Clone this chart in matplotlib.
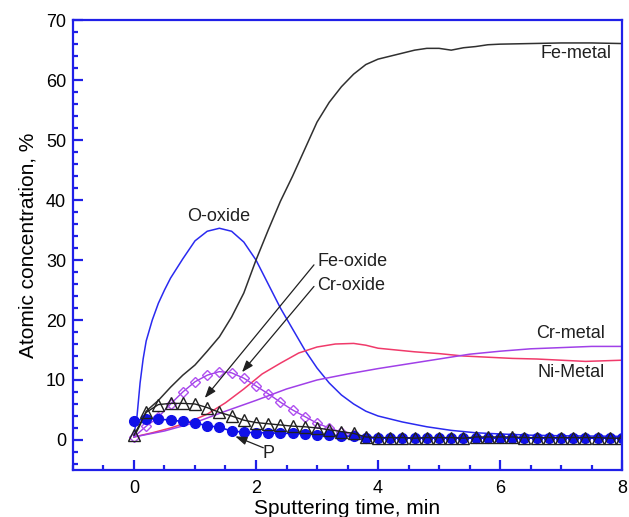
import matplotlib
matplotlib.use("Agg")
import matplotlib.pyplot as plt
from matplotlib.ticker import MultipleLocator

plt.rcParams['font.family'] = ['Liberation Sans', 'DejaVu Sans']

# Fe-metal (black line)
fe_metal_t = [0, 0.1, 0.2, 0.4, 0.6, 0.8, 1.0, 1.2, 1.4, 1.6, 1.8, 2.0, 2.2, 2.4, 2.6, 2.8,
              3.0, 3.2, 3.4, 3.6, 3.8, 4.0, 4.2, 4.4, 4.6, 4.8, 5.0, 5.2, 5.4, 5.6, 5.8,
              6.0, 6.5, 7.0, 7.5, 8.0]
fe_metal = [0.5, 2.5, 4.8, 6.6, 8.8, 10.8, 12.5, 14.8, 17.2, 20.5, 24.5, 30.0, 35.0, 39.8,
            44.0, 48.5, 53.0, 56.3, 58.9, 61.0, 62.6, 63.5, 64.0, 64.5, 65.0, 65.3, 65.3,
            65.0, 65.4, 65.6, 65.9, 66.0, 66.1, 66.2, 66.2, 66.1]

# O-oxide (blue line)
o_oxide_t = [0, 0.05, 0.1, 0.15, 0.2, 0.3, 0.4, 0.5, 0.6, 0.8, 1.0, 1.2, 1.4, 1.6, 1.8,
             2.0, 2.2, 2.4, 2.6, 2.8, 3.0, 3.2, 3.4, 3.6, 3.8, 4.0, 4.4, 4.8, 5.2, 5.6,
             6.0, 6.5, 7.0, 8.0]
o_oxide = [0.8, 4.0, 9.5, 13.5, 16.5, 20.0, 22.8, 25.0, 27.0, 30.2, 33.2, 34.8, 35.3,
           34.8, 33.0, 30.0, 26.0, 22.0, 18.5, 15.0, 12.0, 9.5, 7.5, 6.0, 4.8, 4.0, 3.0,
           2.2, 1.6, 1.2, 1.0, 0.8, 0.7, 0.6]

# red line (Ni-Metal label)
red_t = [0, 0.3, 0.6, 0.9, 1.2, 1.5, 1.8, 2.1, 2.4, 2.7, 3.0, 3.3, 3.6, 3.8, 4.0, 4.3,
         4.6, 5.0, 5.4, 5.8, 6.2, 6.6, 7.0, 7.4, 8.0]
red = [0.5, 1.2, 2.0, 3.0, 4.3, 6.2, 8.5, 11.0, 12.8, 14.5, 15.5, 16.0, 16.1, 15.8,
       15.3, 15.0, 14.7, 14.4, 14.0, 13.8, 13.6, 13.5, 13.3, 13.1, 13.3]

# purple line (Cr-metal label)
purple_t = [0, 0.5, 1.0, 1.5, 2.0, 2.5, 3.0, 3.5, 4.0, 4.5, 5.0, 5.5, 6.0, 6.5, 7.0,
            7.5, 8.0]
purple = [0.5, 1.5, 2.9, 4.8, 6.6, 8.5, 10.0, 11.0, 11.9, 12.7, 13.5, 14.3, 14.8,
          15.2, 15.4, 15.6, 15.6]

# marker series, sampled every 0.2 min
mk_t = [round(0.2 * i, 1) for i in range(41)]
diamonds = [0.5, 2.3, 3.8, 6.0, 8.0, 9.7, 10.8, 11.4, 11.2, 10.3, 9.0, 7.7, 6.3, 5.0,
            3.9, 2.8, 2.0, 1.3, 0.8, 0.5, 0.3, 0.3, 0.3, 0.3, 0.3, 0.3, 0.3, 0.3, 0.3,
            0.3, 0.3, 0.3, 0.3, 0.3, 0.3, 0.3, 0.3, 0.3, 0.3, 0.3, 0.3]
triangles = [0.8, 4.6, 5.9, 6.1, 6.1, 6.0, 5.4, 4.6, 4.0, 3.3, 2.9, 2.7, 2.5, 2.3,
             2.2, 2.0, 1.7, 1.4, 1.1, 0.5, 0.4, 0.4, 0.4, 0.3, 0.4, 0.4, 0.4, 0.3, 0.5,
             0.5, 0.5, 0.5, 0.4, 0.4, 0.4, 0.4, 0.4, 0.4, 0.4, 0.3, 0.3]
p_circles = [3.2, 3.5, 3.5, 3.3, 3.1, 2.8, 2.4, 2.1, 1.5, 1.3, 1.2, 1.2, 1.1, 1.1,
             1.0, 0.9, 0.8, 0.7, 0.6, 0.4, 0.3, 0.3, 0.3, 0.3, 0.3, 0.3, 0.3, 0.3, 0.3,
             0.3, 0.3, 0.3, 0.3, 0.3, 0.3, 0.3, 0.3, 0.3, 0.3, 0.3, 0.3]

fig = plt.figure(figsize=(6.29, 5.17), dpi=100)
ax = fig.add_axes([0.116, 0.091, 0.873, 0.870])

ax.plot(o_oxide_t, o_oxide, color='#2a2af0', lw=1.1)
ax.plot(fe_metal_t, fe_metal, color='#303030', lw=1.1)
ax.plot(red_t, red, color='#f03a6a', lw=1.1)
ax.plot(purple_t, purple, color='#a040e8', lw=1.1)
ax.plot(mk_t, diamonds, color='#a040e8', lw=1.0, marker='D', ms=5.5,
        mfc='none', mec='#b050f0', mew=1.0)
ax.plot(mk_t, p_circles, color='#1010e8', lw=1.2, marker='o', ms=7,
        mfc='#1010e8', mec='#1010e8')
ax.plot(mk_t, triangles, color='#202020', lw=1.0, marker='^', ms=8,
        mfc='none', mec='#202020', mew=1.0)

txt = dict(fontsize=13, color='#202020')
ax.text(7.82, 64.5, 'Fe-metal', ha='right', va='center', **txt)
ax.text(1.39, 37.3, 'O-oxide', ha='center', va='center', **txt)
ax.text(3.0, 29.7, 'Fe-oxide', ha='left', va='center', **txt)
ax.text(3.0, 25.8, 'Cr-oxide', ha='left', va='center', **txt)
ax.text(7.72, 17.8, 'Cr-metal', ha='right', va='center', **txt)
ax.text(7.72, 11.3, 'Ni-Metal', ha='right', va='center', **txt)
ax.text(2.2, -2.2, 'P', ha='center', va='center', **txt)

arrow = dict(arrowstyle='-|>,head_length=0.7,head_width=0.25', color='#202020',
             lw=0.9, shrinkA=0, shrinkB=0)
ax.annotate('', xy=(1.16, 7.0), xytext=(2.95, 29.2), arrowprops=arrow)
ax.annotate('', xy=(1.77, 11.3), xytext=(2.95, 25.6), arrowprops=arrow)
ax.annotate('', xy=(1.66, 0.6), xytext=(2.12, -1.3), arrowprops=arrow)

ax.set_xlim(-1, 8)
ax.set_ylim(-5, 70)
ax.xaxis.set_major_locator(MultipleLocator(2))
ax.xaxis.set_minor_locator(MultipleLocator(0.5))
ax.yaxis.set_major_locator(MultipleLocator(10))
ax.yaxis.set_minor_locator(MultipleLocator(2))

blue = '#2020e8'
for s in ax.spines.values():
    s.set_color(blue)
    s.set_linewidth(1.6)
ax.tick_params(which='both', direction='in', color=blue, width=1.6,
               top=False, right=False, labelsize=13)
ax.tick_params(which='major', length=7)
ax.tick_params(which='minor', length=3.5)
ax.tick_params(axis='x', pad=7)
ax.tick_params(axis='y', pad=5)

ax.set_xlabel('Sputtering time, min', fontsize=15, labelpad=2)
ax.set_ylabel('Atomic concentration, %', fontsize=15, labelpad=6)

fig.savefig('out.png', dpi=100)
